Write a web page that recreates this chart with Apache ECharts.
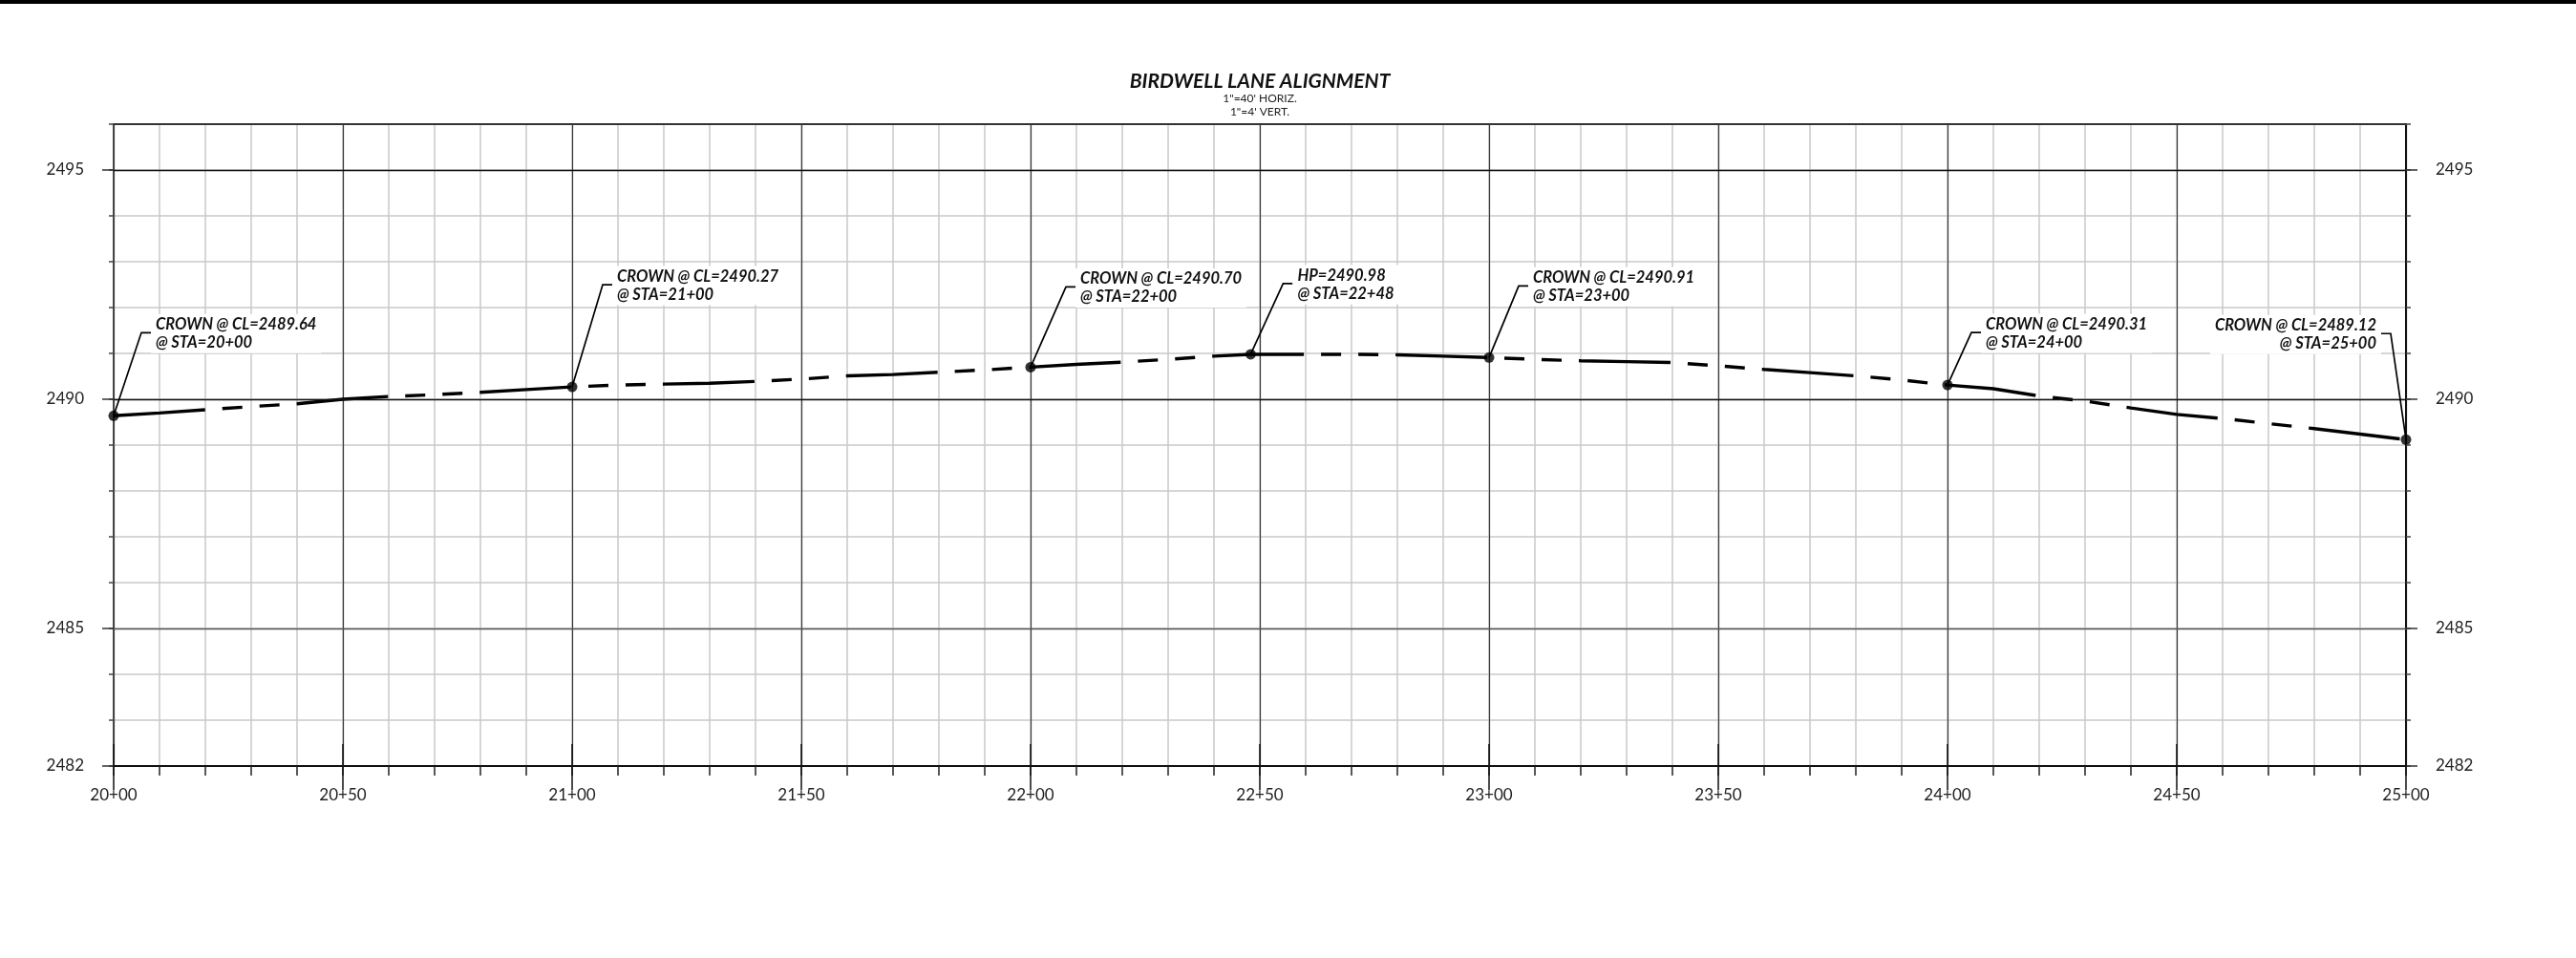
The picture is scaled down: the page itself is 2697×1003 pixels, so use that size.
<!DOCTYPE html>
<html>
<head>
<meta charset="utf-8">
<script src="https://cdn.jsdelivr.net/npm/echarts@6/dist/echarts.min.js"></script>
<style>
html,body{margin:0;padding:0;background:#fff;}
#chart{width:2697px;height:1003px;}
</style>
</head>
<body>
<div id="chart"></div>
<script>
// ---- data ----
const stations = [2000,2010,2020,2030,2040,2050,2060,2070,2080,2090,
  2100,2110,2120,2130,2140,2150,2160,2170,2180,2190,
  2200,2210,2220,2230,2240,2248,2260,2270,2280,2290,
  2300,2310,2320,2330,2340,2350,2360,2370,2380,2390,
  2400,2410,2420,2430,2440,2450,2460,2470,2480,2490,2500];
const elevations = [2489.64,2489.70,2489.77,2489.84,2489.90,2490.00,2490.06,2490.10,2490.15,2490.21,
  2490.27,2490.31,2490.33,2490.35,2490.39,2490.44,2490.51,2490.54,2490.59,2490.64,
  2490.70,2490.76,2490.81,2490.87,2490.94,2490.98,2490.98,2490.98,2490.97,2490.94,
  2490.91,2490.87,2490.84,2490.82,2490.80,2490.73,2490.65,2490.58,2490.51,2490.42,
  2490.31,2490.23,2490.07,2489.96,2489.81,2489.67,2489.58,2489.47,2489.36,2489.24,2489.12];
const keyStations = [2000,2100,2200,2248,2300,2400,2500];
const keyElevations = [2489.64,2490.27,2490.70,2490.98,2490.91,2490.31,2489.12];
const keyLabels = [
  'CROWN @ CL=2489.64\n@ STA=20+00',
  'CROWN @ CL=2490.27\n@ STA=21+00',
  'CROWN @ CL=2490.70\n@ STA=22+00',
  'HP=2490.98\n@ STA=22+48',
  'CROWN @ CL=2490.91\n@ STA=23+00',
  'CROWN @ CL=2490.31\n@ STA=24+00',
  'CROWN @ CL=2489.12\n@ STA=25+00'
];
const yTickLabels = [2482,2485,2490,2495];
const majorGridElev = [2485,2490,2495];
const titleText = 'BIRDWELL LANE ALIGNMENT';
const subText = '1"=40\' HORIZ.\n1"=4\' VERT.';

// ---- layout (pixel offsets of leader elbows; side 1 = label right, -1 = label left) ----
const leaderLayout = [
  {dx:29, dy:-87, side:1},
  {dx:32, dy:-107, side:1},
  {dx:37, dy:-84, side:1},
  {dx:34, dy:-74, side:1},
  {dx:31, dy:-75, side:1},
  {dx:25, dy:-55, side:1},
  {dx:-16, dy:-111, side:-1}
];

const FONT = 'Lato';
const staFmt = v => Math.floor(v/100) + '+' + String(v%100).padStart(2,'0');
const elevFmt = v => String(v);
const majorColors = {2485:'#555', 2490:'#111', 2495:'#111'};

const chart = echarts.init(document.getElementById('chart'), null, {renderer:'canvas'});
const option = {
  animation:false,
  backgroundColor:'#fff',
  title:{
    text:titleText, subtext:subText, left:1314, top:70, textAlign:'center', itemGap:0,
    textStyle:{fontFamily:FONT, fontStyle:'italic', fontWeight:'bold', fontSize:21, color:'#111'},
    subtextStyle:{fontFamily:FONT, fontSize:12, color:'#222', lineHeight:14}
  },
  graphic:[{type:'rect', left:0, top:0, shape:{width:2697, height:4}, style:{fill:'#000'}}],
  grid:{left:119, right:178, top:130, bottom:201, containLabel:false},
  xAxis:[
    {type:'value', min:2000, max:2500, interval:10, position:'bottom',
     axisLine:{show:true, onZero:false, lineStyle:{color:'#111', width:2}},
     axisTick:{show:true, length:10, lineStyle:{color:'#222', width:1.5}},
     axisLabel:{show:false},
     splitLine:{show:true, lineStyle:{color:'#c8c8c8', width:1.5}}},
    {type:'value', min:2000, max:2500, interval:50, position:'bottom',
     axisLine:{show:false},
     axisTick:{show:true, length:25, lineStyle:{color:'#111', width:1.5}},
     axisLabel:{show:true, margin:22, formatter:staFmt, fontFamily:FONT, fontSize:17, color:'#222'},
     splitLine:{show:true, lineStyle:{color:'#3a3a3a', width:1.2}}},
    {type:'value', min:2000, max:2500, interval:50, position:'bottom',
     axisLine:{show:false},
     axisTick:{show:true, inside:true, length:23, lineStyle:{color:'#111', width:1.5}},
     axisLabel:{show:false}, splitLine:{show:false}},
    {type:'value', min:2000, max:2500, interval:50, position:'top',
     axisLine:{show:true, onZero:false, lineStyle:{color:'#333', width:2}},
     axisTick:{show:false}, axisLabel:{show:false}, splitLine:{show:false}}
  ],
  yAxis:[
    {type:'value', min:2482, max:2496, interval:1, position:'left',
     axisLine:{show:true, onZero:false, lineStyle:{color:'#444', width:2}},
     axisTick:{show:true, length:5, lineStyle:{color:'#444', width:1.5}},
     axisLabel:{show:false},
     splitLine:{show:true, lineStyle:{color:'#c8c8c8', width:1.5}}},
    {type:'value', min:2482, max:2496, position:'left',
     axisLine:{show:false},
     axisTick:{show:true, length:12, customValues:yTickLabels, lineStyle:{color:'#333', width:1.5}},
     axisLabel:{show:true, margin:31, customValues:yTickLabels, formatter:elevFmt, fontFamily:FONT, fontSize:17, color:'#222'},
     splitLine:{show:false}},
    {type:'value', min:2482, max:2496, interval:1, position:'right',
     axisLine:{show:true, onZero:false, lineStyle:{color:'#111', width:2}},
     axisTick:{show:true, length:5, lineStyle:{color:'#444', width:1.5}},
     axisLabel:{show:false}, splitLine:{show:false}},
    {type:'value', min:2482, max:2496, position:'right',
     axisLine:{show:false},
     axisTick:{show:true, length:12, customValues:yTickLabels, lineStyle:{color:'#333', width:1.5}},
     axisLabel:{show:true, margin:31, customValues:yTickLabels, formatter:elevFmt, fontFamily:FONT, fontSize:17, color:'#222'},
     splitLine:{show:false}}
  ],
  series:[
    {type:'line', name:'gridMajor', xAxisIndex:0, yAxisIndex:0, z:1, silent:true,
     data:stations.map((s,i)=>[s, elevations[i]]), showSymbol:false,
     lineStyle:{opacity:0},
     markLine:{silent:true, symbol:'none', label:{show:false}, animation:false,
       data:majorGridElev.map(v=>({yAxis:v, lineStyle:{color:majorColors[v], width:1.3, type:'solid'}}))}},
    {type:'line', name:'profile', xAxisIndex:0, yAxisIndex:0, z:3, silent:true,
     data:stations.map((s,i)=>[s, elevations[i]]), showSymbol:false,
     lineStyle:{color:'#000', width:3.4, type:[96,18,21,18,21,18], dashOffset:0, cap:'butt'}},
    {type:'scatter', name:'points', xAxisIndex:0, yAxisIndex:0, z:4, silent:true,
     data:keyStations.map((s,i)=>[s, keyElevations[i]]), symbol:'circle', symbolSize:11,
     itemStyle:{color:'#000'}},
    {type:'custom', name:'labels', xAxisIndex:0, yAxisIndex:0, z:5, clip:false, silent:true,
     data:keyStations.map((s,i)=>[s, keyElevations[i], i]),
     renderItem:function(params, api){
       const i = api.value(2);
       const p = api.coord([api.value(0), api.value(1)]);
       const lay = leaderLayout[i];
       const ex = p[0] + lay.dx, ey = p[1] + lay.dy;
       const hx = ex + lay.side*10;
       return {type:'group', children:[
         {type:'polyline', shape:{points:[p,[ex,ey],[hx,ey]]},
          style:{stroke:'#000', lineWidth:1.7, fill:null}},
         {type:'text', x:hx, y:ey+1, z2:10,
          style:{text:keyLabels[i], font:'italic bold 16.5px Lato', fill:'#111',
            align:lay.side>0?'left':'right', verticalAlign:'middle', lineHeight:19,
            backgroundColor:'#fff', padding:[1,5,2,5]}}
       ]};
     }}
  ]
};
chart.setOption(option);
</script>
</body>
</html>
